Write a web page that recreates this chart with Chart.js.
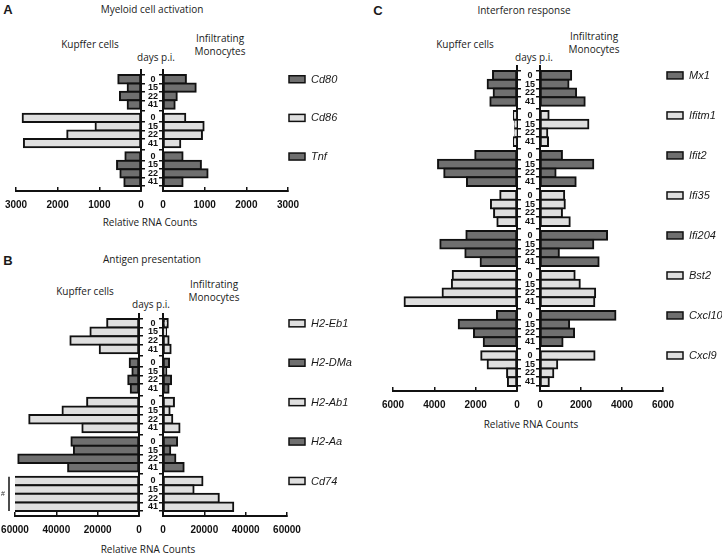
<!DOCTYPE html>
<html>
<head>
<meta charset="utf-8">
<script src="https://cdn.jsdelivr.net/npm/chart.js@4.4.1/dist/chart.umd.min.js"></script>
<style>
  body { margin: 0; background: #fff; width: 722px; height: 555px; position: relative; overflow: hidden;
         font-family: "Open Sans", sans-serif; color: #1a1a1a; }
  canvas { position: absolute; }
  .t { position: absolute; font-size: 10px; line-height: 13px; white-space: nowrap; text-align: center;
       transform: translate(-50%, -50%); }
  .big { font: bold 13px "Liberation Sans", sans-serif; }
</style>
</head>
<body>

<div class="t big" style="left:8px;top:9px">A</div>
<div class="t" style="left:152px;top:9px">Myeloid cell activation</div>
<div class="t" style="left:90px;top:44px">Kupffer cells</div>
<div class="t" style="left:220px;top:45px">Infiltrating<br>Monocytes</div>
<div class="t" style="left:156px;top:57px">days p.i.</div>
<div class="t" style="left:150px;top:222px">Relative RNA Counts</div>

<div class="t big" style="left:8px;top:260px">B</div>
<div class="t" style="left:152px;top:259px">Antigen presentation</div>
<div class="t" style="left:85px;top:291px">Kupffer cells</div>
<div class="t" style="left:214px;top:291px">Infiltrating<br>Monocytes</div>
<div class="t" style="left:151px;top:304px">days p.i.</div>
<div class="t" style="left:148px;top:549px">Relative RNA Counts</div>

<div class="t big" style="left:378px;top:10px">C</div>
<div class="t" style="left:524px;top:10px">Interferon response</div>
<div class="t" style="left:465px;top:44px">Kupffer cells</div>
<div class="t" style="left:594px;top:43px">Infiltrating<br>Monocytes</div>
<div class="t" style="left:534px;top:57px">days p.i.</div>
<div class="t" style="left:531px;top:424px">Relative RNA Counts</div>

<script>
const days = ['0', '15', '22', '41'];

// A - Myeloid cell activation
const genesA = ['Cd80', 'Cd86', 'Tnf'];
const kupfferA = [[545, 320, 505, 320], [2840, 1090, 1770, 2810], [375, 575, 495, 400]];
const monocytesA = [[550, 785, 330, 280], [535, 975, 935, 415], [470, 910, 1070, 470]];
const ticksA = [0, 1000, 2000, 3000];

// B - Antigen presentation (Cd74 Kupffer values run off the axis, marked #)
const genesB = ['H2-Eb1', 'H2-DMa', 'H2-Ab1', 'H2-Aa', 'Cd74'];
const kupfferB = [[15400, 23500, 33200, 19000], [4500, 3200, 5200, 4000], [25100, 37000, 53100, 27400],
                  [32700, 31500, 58400, 34300], [72000, 68000, 75000, 70000]];
const monocytesB = [[2300, 1500, 2700, 3700], [2900, 1600, 3900, 2700], [5300, 3200, 4500, 8000],
                    [6800, 3500, 6000, 10000], [19100, 14800, 27000, 34000]];
const ticksB = [0, 20000, 40000, 60000];

// C - Interferon response
const genesC = ['Mx1', 'Ifitm1', 'Ifit2', 'Ifi35', 'Ifi204', 'Bst2', 'Cxcl10', 'Cxcl9'];
const kupfferC = [[1160, 1420, 1130, 1290], [150, 90, 80, 150], [2020, 3820, 3520, 2420], [810, 1260, 1110, 950],
                  [2450, 3710, 2500, 1760], [3110, 3150, 3600, 5440], [970, 2820, 2080, 1610], [1730, 1420, 480, 440]];
const monocytesC = [[1520, 1390, 1760, 2180], [420, 2360, 355, 390], [1070, 2600, 760, 1740], [1180, 1210, 1070, 1450],
                    [3270, 2600, 920, 2860], [1690, 1940, 2690, 2650], [3680, 1420, 1660, 1100], [2660, 840, 650, 430]];
const ticksC = [0, 2000, 4000, 6000];

const DARK = '#6f6f6f';
const LIGHT = '#dfdfdf';
const INK = '#111';
const GAP = 0.6; // empty space between gene groups, in bar heights

function rowPositions(genes) {
  const out = [];
  genes.forEach((g, gi) => days.forEach((d, di) => out.push(gi * (days.length + GAP) + di)));
  return out;
}

function addCanvas(left, top, width, height) {
  const c = document.createElement('canvas');
  c.width = width; c.height = height;
  c.style.left = left + 'px'; c.style.top = top + 'px';
  document.body.appendChild(c);
  return c;
}

function xAxis(reverse, tickVals) {
  return {
    type: 'linear', reverse, min: 0, max: tickVals[tickVals.length - 1],
    afterBuildTicks: s => { s.ticks = tickVals.map(v => ({value: v})); },
    afterFit: s => { s.height = 30; },
    ticks: {autoSkip: false, maxRotation: 0, padding: 12, color: INK,
            font: {family: 'Liberation Sans', weight: 'bold', size: 10}, callback: v => String(v)},
    grid: {drawOnChartArea: false, tickLength: -4, color: INK, lineWidth: 1.5},
    border: {color: INK, width: 2}
  };
}

function yAxis(position, pos, labels, width) {
  return {
    type: 'linear', position, reverse: true, min: -0.5, max: pos[pos.length - 1] + 0.5,
    afterBuildTicks: s => { s.ticks = pos.map(v => ({value: v})); },
    afterFit: s => { s.width = width; },
    ticks: {display: labels, autoSkip: false, crossAlign: 'center', padding: 1, color: INK,
            font: {family: 'Liberation Sans', weight: 'bold', size: 9},
            callback: (v, i) => days[i % days.length]},
    grid: {drawOnChartArea: false, tickLength: 4, color: INK, lineWidth: 1.5},
    border: {color: INK, width: 2}
  };
}

function makePanel(p) {
  const pos = rowPositions(p.genes);
  const fills = p.genes.flatMap((g, gi) => days.map(() => p.shades[gi]));
  const points = vals => vals.flatMap((row, gi) => row.map((v, di) => ({x: v, y: pos[gi * days.length + di]})));
  const xMax = p.ticks[p.ticks.length - 1];
  const g = p.geo;
  const top = g.top - 10, height = g.bottom + 30 - top;

  const dataset = vals => ({
    data: points(vals), backgroundColor: fills, borderColor: INK, borderWidth: 2,
    inflateAmount: 1, borderSkipped: false, barPercentage: 1, categoryPercentage: 1
  });
  const base = {indexAxis: 'y', responsive: false, animation: false,
                plugins: {legend: {display: false}, tooltip: {enabled: false}}};

  // "#" marks groups whose Kupffer bars run past the axis
  const offScale = {
    id: 'offScale',
    afterDraw(chart) {
      const ys = chart.scales.y, ctx = chart.ctx, x = chart.chartArea.left - 6;
      p.genes.forEach((gene, gi) => {
        if (!p.kupffer[gi].some(v => v > xMax)) return;
        const y1 = ys.getPixelForValue(pos[gi * days.length] - 0.5);
        const y2 = ys.getPixelForValue(pos[gi * days.length + days.length - 1] + 0.5);
        ctx.save();
        ctx.strokeStyle = INK; ctx.lineWidth = 1.5;
        ctx.beginPath(); ctx.moveTo(x, y1); ctx.lineTo(x, y2); ctx.stroke();
        ctx.fillStyle = '#333'; ctx.font = '7px "Liberation Sans"';
        ctx.textAlign = 'center'; ctx.textBaseline = 'middle';
        ctx.fillText('#', x - 6, (y1 + y2) / 2);
        ctx.restore();
      });
    }
  };

  const leftX = Math.max(0, g.xl1 - 20);
  new Chart(addCanvas(leftX, top, g.xl0 + 5 - leftX, height), {
    type: 'bar',
    data: {datasets: [dataset(p.kupffer)]},
    options: {...base, layout: {padding: {left: g.xl1 - leftX, right: 0, top: 10, bottom: 0}},
              scales: {x: xAxis(true, p.ticks), y: yAxis('right', pos, false, 5)}},
    plugins: [offScale]
  });

  // gene legend next to each group's first bar
  const geneLegend = {
    id: 'geneLegend',
    afterDraw(chart) {
      const ys = chart.scales.y, ctx = chart.ctx, x = chart.chartArea.right + g.legendOff;
      ctx.save();
      p.genes.forEach((gene, gi) => {
        const y = ys.getPixelForValue(pos[gi * days.length]);
        ctx.fillStyle = p.shades[gi];
        ctx.fillRect(x, y - 3.5, 16, 7);
        ctx.strokeStyle = INK; ctx.lineWidth = 1.5;
        ctx.strokeRect(x, y - 3.5, 16, 7);
        ctx.fillStyle = '#1a1a1a'; ctx.font = 'italic 11px "Liberation Sans"';
        ctx.textAlign = 'left'; ctx.textBaseline = 'middle';
        ctx.fillText(gene, x + 22, y + 0.5);
      });
      ctx.restore();
    }
  };

  new Chart(addCanvas(g.xl0, top, g.right - g.xl0, height), {
    type: 'bar',
    data: {datasets: [dataset(p.monocytes)]},
    options: {...base, layout: {padding: {left: 0, right: g.right - g.xr1, top: 10, bottom: 0}},
              scales: {x: xAxis(false, p.ticks), y: yAxis('left', pos, true, g.xr0 - g.xl0)}},
    plugins: [geneLegend]
  });
}

makePanel({genes: genesA, kupffer: kupfferA, monocytes: monocytesA, ticks: ticksA,
           shades: [DARK, LIGHT, DARK],
           geo: {xl1: 16, xl0: 141, xr0: 163, xr1: 288, top: 70, bottom: 191, right: 368, legendOff: 1}});
makePanel({genes: genesB, kupffer: kupfferB, monocytes: monocytesB, ticks: ticksB,
           shades: [LIGHT, DARK, LIGHT, DARK, LIGHT],
           geo: {xl1: 15, xl0: 139, xr0: 163, xr1: 287, top: 314, bottom: 516, right: 368, legendOff: 2}});
makePanel({genes: genesC, kupffer: kupfferC, monocytes: monocytesC, ticks: ticksC,
           shades: [DARK, LIGHT, DARK, LIGHT, DARK, LIGHT, DARK, LIGHT],
           geo: {xl1: 393, xl0: 517, xr0: 540, xr1: 663, top: 66, bottom: 391, right: 722, legendOff: 4}});
</script>
</body>
</html>
